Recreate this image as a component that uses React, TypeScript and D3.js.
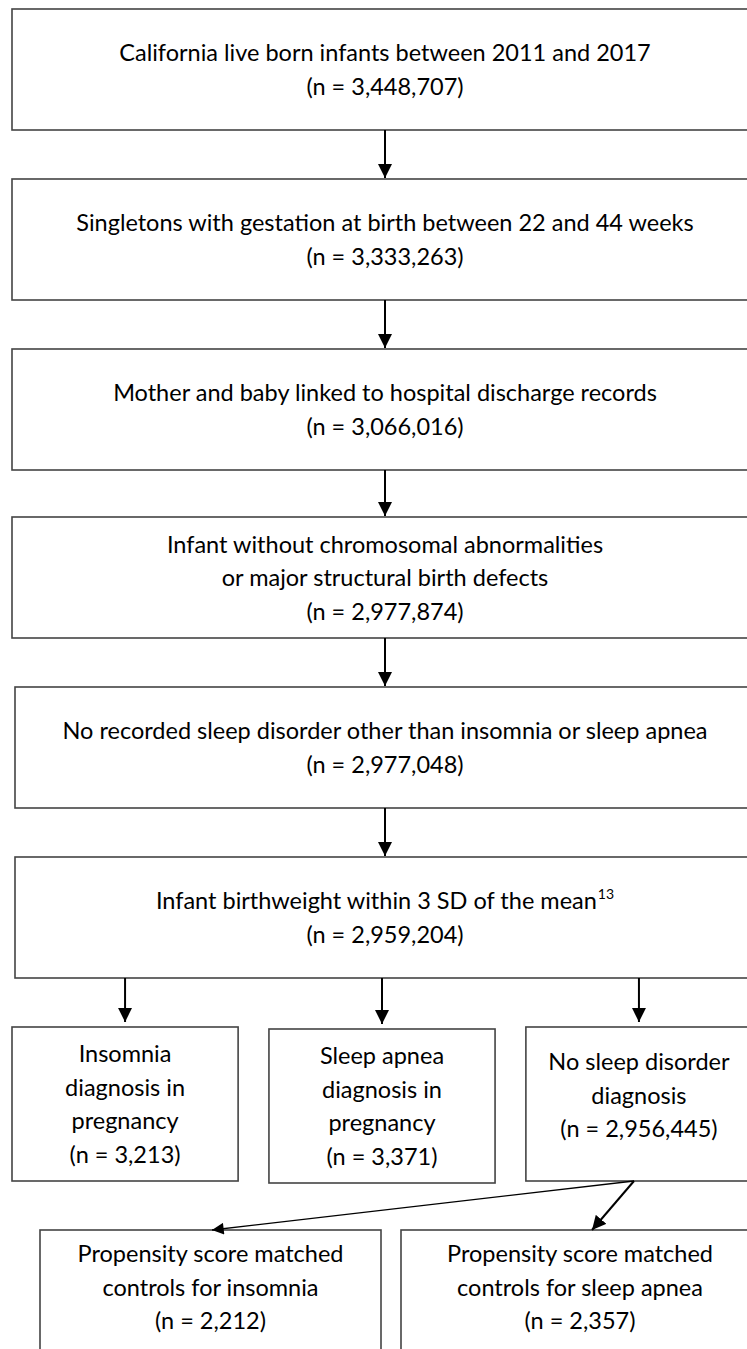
import React from 'react';
import * as d3 from 'd3';

// flow steps (top to bottom)
const stepLabels = [
  ['California live born infants between 2011 and 2017'],
  ['Singletons with gestation at birth between 22 and 44 weeks'],
  ['Mother and baby linked to hospital discharge records'],
  ['Infant without chromosomal abnormalities', 'or major structural birth defects'],
  ['No recorded sleep disorder other than insomnia or sleep apnea'],
  ['Infant birthweight within 3 SD of the mean'],
];
const stepCounts = [3448707, 3333263, 3066016, 2977874, 2977048, 2959204];
const stepNotes = ['', '', '', '', '', '13'];

// split into exposure groups
const groupLabels = [
  ['Insomnia', 'diagnosis in', 'pregnancy'],
  ['Sleep apnea', 'diagnosis in', 'pregnancy'],
  ['No sleep disorder', 'diagnosis'],
];
const groupCounts = [3213, 3371, 2956445];

// matched controls
const matchedLabels = [
  ['Propensity score matched', 'controls for insomnia'],
  ['Propensity score matched', 'controls for sleep apnea'],
];
const matchedCounts = [2212, 2357];

const W = 747;
const H = 1349;
const FONT = 'Lato, "Open Sans", sans-serif';
const FS = 23.5;
const LH = 33.5;
const BASE = 8.5; // baseline offset from line centre
const boxStroke = '#444';

const fmt = d3.format(',');
const nText = (n: number) => `(n = ${fmt(n)})`;

// layout
const stepTops = [9, 179, 349, 517, 687, 857];
const stepLeft = [12, 12, 12, 12, 15, 15];
const stepH = 121;
const midX = 385;

const groupTops = [1027, 1029, 1027];
const groupH = 154;
const groupTextShift = [0, 0, -9];
const groupX = d3.scaleBand<number>().domain([0, 1, 2]).range([12, 752]).paddingInner(0.12);

const matchedTop = 1230;
const matchedX = [40, 401];
const matchedW = [341, 358];

const App = () => {
  const arrows: { x1: number; y1: number; x2: number; y2: number; w: number }[] = [];
  for (let i = 0; i < stepTops.length - 1; i++) {
    arrows.push({ x1: midX, y1: stepTops[i] + stepH, x2: midX, y2: stepTops[i + 1] - 1, w: 2 });
  }
  const lastBottom = stepTops[stepTops.length - 1] + stepH;
  groupLabels.forEach((_, i) => {
    const cx = groupX(i)! + groupX.bandwidth() / 2;
    arrows.push({ x1: cx, y1: lastBottom, x2: cx, y2: groupTops[i] - 5, w: 2 });
  });
  const srcX = 634;
  const srcY = groupTops[2] + groupH;
  arrows.push({ x1: srcX, y1: srcY, x2: matchedX[0] + 172, y2: matchedTop, w: 1.3 });
  arrows.push({ x1: srcX, y1: srcY, x2: matchedX[1] + 191, y2: matchedTop, w: 2 });

  const lines = (labels: string[], count: number, cx: number, cy: number, note = '') => {
    const all = [...labels, nText(count)];
    return all.map((t, i) => (
      <text
        key={i}
        x={cx}
        y={cy + (i - (all.length - 1) / 2) * LH + BASE}
        textAnchor="middle"
      >
        {t}
        {i === labels.length - 1 && note ? (
          <tspan fontSize={14} dx={1} dy={-10}>{note}</tspan>
        ) : null}
      </text>
    ));
  };

  return (
    <svg
      width={W}
      height={H}
      style={{ position: 'absolute', left: 0, top: 0, background: '#fff' }}
      fontFamily={FONT}
      fontSize={FS}
      fill="#000"
    >
      <defs>
        <marker id="ah" viewBox="0 0 10 10" refX="10" refY="5" markerWidth="7" markerHeight="7" orient="auto">
          <path d="M0,0 L10,5 L0,10 z" fill="#000" />
        </marker>
        <marker id="ahs" viewBox="0 0 10 10" refX="10" refY="5" markerWidth="11" markerHeight="9" orient="auto">
          <path d="M0,0 L10,5 L0,10 z" fill="#000" />
        </marker>
      </defs>
      <rect width={W} height={H} fill="#fff" />

      {stepLabels.map((lab, i) => (
        <g key={'s' + i}>
          <rect x={stepLeft[i]} y={stepTops[i]} width={W + 10 - stepLeft[i]} height={stepH}
            fill="none" stroke={boxStroke} strokeWidth={1.6} />
          {lines(lab, stepCounts[i], midX, stepTops[i] + stepH / 2, stepNotes[i])}
        </g>
      ))}

      {groupLabels.map((lab, i) => {
        const x = groupX(i)!;
        const bw = groupX.bandwidth();
        return (
          <g key={'g' + i}>
            <rect x={x} y={groupTops[i]} width={bw} height={groupH}
              fill="none" stroke={boxStroke} strokeWidth={1.6} />
            {lines(lab, groupCounts[i], x + bw / 2, groupTops[i] + groupH / 2 + groupTextShift[i])}
          </g>
        );
      })}

      {matchedLabels.map((lab, i) => (
        <g key={'m' + i}>
          <rect x={matchedX[i]} y={matchedTop} width={matchedW[i]} height={200}
            fill="none" stroke={boxStroke} strokeWidth={1.6} />
          {lines(lab, matchedCounts[i], matchedX[i] + matchedW[i] / 2, matchedTop + 57)}
        </g>
      ))}

      {arrows.map((a, i) => (
        <line key={'a' + i} x1={a.x1} y1={a.y1} x2={a.x2} y2={a.y2}
          stroke="#000" strokeWidth={a.w} markerEnd={a.w < 1.5 ? 'url(#ahs)' : 'url(#ah)'} />
      ))}
    </svg>
  );
};

export default App;
